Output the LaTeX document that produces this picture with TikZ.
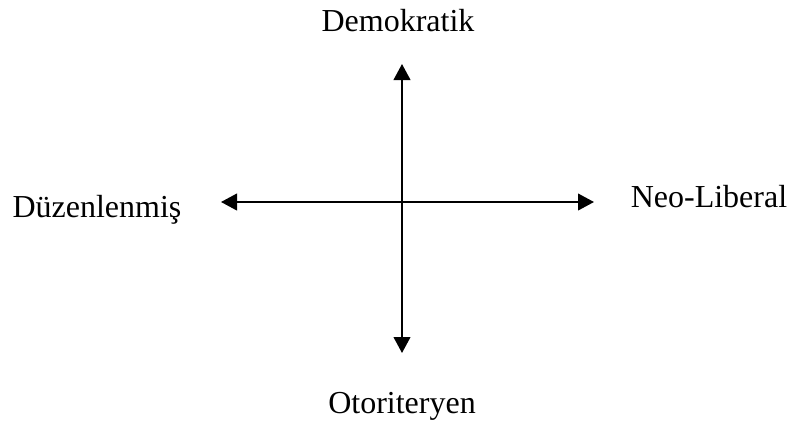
\documentclass[tikz,border=0pt]{standalone}
\usepackage{fontspec}
\setmainfont{Liberation Serif}
\usetikzlibrary{arrows.meta}

\begin{document}
\begin{tikzpicture}[
        x=0.75pt, y=-0.75pt,
        axislabel/.style={
            font=\fontsize{24}{28}\selectfont,
            anchor=base,
            inner sep=0pt
        },
        axisarrow/.style={
            {Triangle[length=12pt, width=12.5pt]}-{Triangle[length=12pt, width=12.5pt]},
            line width=1.5pt
        }
    ]

        \useasboundingbox (0,0) rectangle (790,426);

        % ---------------------------------------------------------------------
        % Axis ends
        % ---------------------------------------------------------------------

        \coordinate (top)    at (402,64);
        \coordinate (bottom) at (402,353);
        \coordinate (left)   at (221,202);
        \coordinate (right)  at (594,202);

        % ---------------------------------------------------------------------
        % Axes
        % ---------------------------------------------------------------------

        \draw[axisarrow] (bottom) -- (top);
        \draw[axisarrow] (left) -- (right);

        % ---------------------------------------------------------------------
        % Labels
        % ---------------------------------------------------------------------

        \node[axislabel] (demokratik) at (398,31) {Demokratik};
        \node[axislabel] (otoriter) at (402,413) {Otoriteryen};
        \node[axislabel] (duzenli) at (97,217) {Düzenlenmiş};
        \node[axislabel] (neoliberal) at (709,207) {Neo-Liberal};

    \end{tikzpicture}
\end{document}
